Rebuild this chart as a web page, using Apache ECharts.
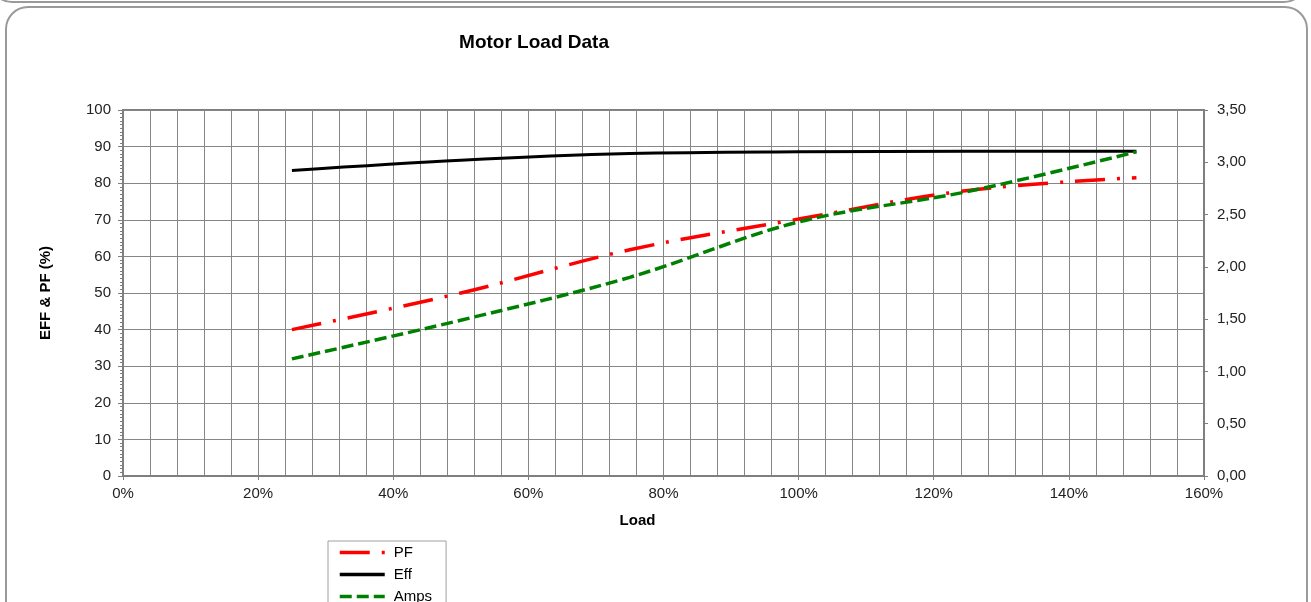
<!DOCTYPE html>
<html>
<head>
<meta charset="utf-8">
<script src="https://cdn.jsdelivr.net/npm/echarts@6/dist/echarts.min.js"></script>
<style>
  html, body { margin: 0; padding: 0; background: #fff; }
  #chart { width: 1311px; height: 602px; }
</style>
</head>
<body>
<div id="chart"></div>
<script>
// ---- data ----
var loadPct = [0.25, 0.50, 0.75, 1.00, 1.25, 1.50];
var pfValues = [40.0, 50.0, 61.8, 70.2, 78.0, 81.5];
var effValues = [83.5, 86.3, 88.1, 88.6, 88.7, 88.7];
var ampsValues = [1.12, 1.49, 1.90, 2.43, 2.72, 3.10];
var seriesNames = ['PF', 'Eff', 'Amps'];
var titleText = 'Motor Load Data';
var xAxisName = 'Load';
var yAxisName = 'EFF & PF (%)';

function pairs(xs, ys) {
  return xs.map(function (x, i) { return [x, ys[i]]; });
}

var chart = echarts.init(document.getElementById('chart'), null, { renderer: 'canvas' });
var fontFam = 'Liberation Sans, Arial, sans-serif';
var gridGray = '#868686';

var option = {
  animation: false,
  backgroundColor: '#ffffff',
  textStyle: { fontFamily: fontFam },
  title: {
    text: titleText,
    left: 529,
    textAlign: 'center',
    top: 28,
    textStyle: { fontSize: 19, fontWeight: 'bold', color: '#000', fontFamily: fontFam }
  },
  graphic: [
    {
      type: 'rect', silent: true,
      shape: { x: 6, y: 7, width: 1301, height: 660, r: 22 },
      style: { fill: 'none', stroke: '#9a9a9a', lineWidth: 2 }
    },
    {
      type: 'rect', silent: true,
      shape: { x: -10, y: -60, width: 1316, height: 62, r: 22 },
      style: { fill: 'none', stroke: '#9a9a9a', lineWidth: 2 }
    }
  ],
  legend: {
    orient: 'vertical',
    left: 328,
    top: 541,
    height: 120,
    data: seriesNames,
    itemWidth: 45,
    itemHeight: 14,
    itemGap: 7,
    padding: [4, 14, 6, 10],
    borderColor: '#a0a0a0',
    borderWidth: 1,
    itemStyle: { opacity: 0 },
    lineStyle: { width: 3.5 },
    textStyle: { fontSize: 15, color: '#000', fontFamily: fontFam, padding: [0, 0, 0, 4] }
  },
  grid: {
    left: 123, right: 107, top: 110, bottom: 126,
    show: true, borderColor: '#7f7f7f', borderWidth: 2, backgroundColor: 'transparent'
  },
  xAxis: {
    type: 'value',
    min: 0, max: 1.6, interval: 0.2,
    name: xAxisName,
    nameLocation: 'middle',
    nameGap: 37,
    nameTextStyle: { fontSize: 15, fontWeight: 'bold', color: '#000', padding: [0, 52, 0, 0] },
    axisLine: { show: true, onZero: false, lineStyle: { color: '#7f7f7f', width: 2 } },
    axisTick: { show: true, length: 4, lineStyle: { color: '#7f7f7f' } },
    axisLabel: {
      fontSize: 15, color: '#222', margin: 10,
      formatter: function (v) { return Math.round(v * 100) + '%'; }
    },
    splitLine: { show: true, lineStyle: { color: gridGray, width: 1 } },
    minorTick: { show: false, splitNumber: 5 },
    minorSplitLine: { show: true, lineStyle: { color: gridGray, width: 1 } }
  },
  yAxis: [
    {
      type: 'value',
      min: 0, max: 100, interval: 10,
      name: yAxisName,
      nameLocation: 'middle',
      nameGap: 70,
      nameRotate: 90,
      nameTextStyle: { fontSize: 15, fontWeight: 'bold', color: '#000' },
      axisLine: { show: true, lineStyle: { color: '#7f7f7f', width: 2 } },
      axisTick: { show: true, length: 5, lineStyle: { color: '#7f7f7f' } },
      minorTick: { show: true, splitNumber: 10, length: 3, lineStyle: { color: '#7f7f7f' } },
      axisLabel: { fontSize: 15, color: '#222', margin: 12 },
      splitLine: { show: true, lineStyle: { color: gridGray, width: 1 } }
    },
    {
      type: 'value',
      position: 'right',
      min: 0, max: 3.5, interval: 0.5,
      axisLine: { show: true, lineStyle: { color: '#7f7f7f', width: 2 } },
      axisTick: { show: true, length: 4, lineStyle: { color: '#7f7f7f' } },
      axisLabel: {
        fontSize: 15, color: '#222', margin: 13,
        formatter: function (v) { return v.toFixed(2).replace('.', ','); }
      },
      splitLine: { show: false }
    }
  ],
  series: [
    {
      name: seriesNames[0], type: 'line', yAxisIndex: 0,
      data: pairs(loadPct, pfValues),
      smooth: 0.35, symbol: 'none', showSymbol: false,
      itemStyle: { color: '#ff0000' },
      lineStyle: { color: '#ff0000', width: 3.5, type: [30, 12, 3, 12] },
      z: 4
    },
    {
      name: seriesNames[1], type: 'line', yAxisIndex: 0,
      data: pairs(loadPct, effValues),
      smooth: 0.35, symbol: 'none', showSymbol: false,
      itemStyle: { color: '#000000' },
      lineStyle: { color: '#000000', width: 3 },
      z: 3
    },
    {
      name: seriesNames[2], type: 'line', yAxisIndex: 1,
      data: pairs(loadPct, ampsValues),
      smooth: 0.35, symbol: 'none', showSymbol: false,
      itemStyle: { color: '#008000' },
      lineStyle: { color: '#008000', width: 3.5, type: [12, 5] },
      z: 5
    }
  ]
};
chart.setOption(option);
</script>
</body>
</html>
